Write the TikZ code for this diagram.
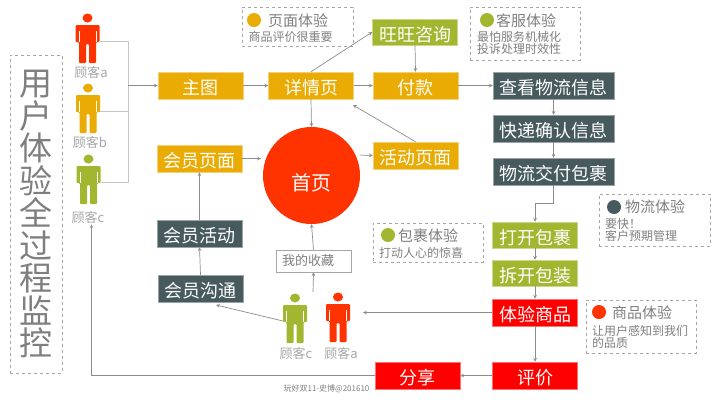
\documentclass[tikz,border=0pt]{standalone}
\usepackage{fontspec}
\setmainfont{Noto Sans CJK SC}
\definecolor{ytorange}{HTML}{EAAB05}
\definecolor{ytgreen}{HTML}{A2B72F}
\definecolor{ytslate}{HTML}{475A5D}
\definecolor{ytred}{HTML}{FF0000}
\definecolor{ytfire}{HTML}{FF3300}
\definecolor{ytgray}{HTML}{7F7F7F}
\definecolor{ytlabel}{HTML}{A6A6A6}
\definecolor{ytline}{HTML}{8C8C8C}
\newcommand{\fsize}[1]{\fontsize{#1}{#1}\selectfont}

\begin{document}
\begin{tikzpicture}[
    x=1pt, y=-1pt,
    flow/.style={fill=#1, draw=#1!55, line width=0.5pt, text=white, minimum width=85pt,
      minimum height=27pt, inner sep=0pt, text height=18pt, text depth=0pt, font=\fsize{18}},
    wideflow/.style={flow=#1, minimum width=121pt},
    link/.style={-stealth, draw=ytline, line width=0.7pt},
    feed/.style={draw=gray!45, line width=1pt},
    notebox/.style={draw=ytlabel, dashed, line width=0.6pt, inner sep=0pt},
    notedot/.style={circle, fill=#1, minimum size=14pt, inner sep=0pt},
    notehead/.style={anchor=west, inner sep=0pt, text=ytgray, font=\fsize{15}},
    notetext/.style={anchor=west, align=left, inner sep=0pt, text=ytgray, font=\fsize{12}},
    custlabel/.style={inner sep=0pt, text=ytlabel, font=\fsize{13}},
    pics/person/.style={code={
      \fill[#1] (0,0) ellipse (5 and 4.5);
      \fill[#1, rounded corners=1pt] (-12,7) -- (12,7) -- (12,24) -- (8.5,24) -- (8.5,45) -- (1.5,45)
        -- (1.5,26) -- (-1.5,26) -- (-1.5,45) -- (-8.5,45) -- (-8.5,24) -- (-12,24) -- cycle;
      \draw[white, line width=0.3pt] (-8.5,13) -- (-8.5,24) (8.5,13) -- (8.5,24);
      \coordinate (-r) at (12,23);
      \coordinate (-l) at (-12,23);
    }},
  ]
  \useasboundingbox (0,0) rectangle (720,405);

  % title
  \node[notebox, minimum width=52pt, minimum height=318pt] (titlebox) at (36,214) {};
  \node[align=center, inner sep=0pt, text=ytgray, font=\fontsize{33}{32.5}\selectfont] (title) at (36,214)
    {用\\户\\体\\验\\全\\过\\程\\监\\控};

  % customers
  \pic (custa) at (87.5,18) {person=ytfire};
  \pic (custb) at (88,88) {person=ytorange};
  \pic (custc) at (88.5,159) {person=ytgreen};
  \pic (custd) at (295,298) {person=ytgreen};
  \pic (custe) at (338,297) {person=ytfire};
  \node[custlabel] (labela) at (91,73) {顾客a};
  \node[custlabel] (labelb) at (90,143) {顾客b};
  \node[custlabel] (labelc) at (88,218) {顾客c};
  \node[custlabel] (labeld) at (296,354) {顾客c};
  \node[custlabel] (labele) at (341,354) {顾客a};

  % flow boxes
  \node[flow=ytorange] (main) at (200.5,85.5) {主图};
  \node[flow=ytorange] (detail) at (311,85.5) {详情页};
  \node[flow=ytorange] (pay) at (415.5,85.5) {付款};
  \node[flow=ytgreen, minimum height=26pt] (wangwang) at (415,32) {旺旺咨询};
  \node[flow=ytorange] (event) at (415.5,155.5) {活动页面};
  \node[flow=ytorange] (member) at (199.5,158.5) {会员页面};
  \node[flow=ytslate] (memberact) at (199.5,233.5) {会员活动};
  \node[flow=ytslate] (membertalk) at (200.5,288.5) {会员沟通};
  \node[wideflow=ytslate] (track) at (553.5,85.5) {查看物流信息};
  \node[wideflow=ytslate] (confirm) at (553.5,128.5) {快递确认信息};
  \node[wideflow=ytslate] (deliver) at (553.5,171.5) {物流交付包裹};
  \node[flow=ytgreen, minimum height=26pt] (openbox) at (535,235) {打开包裹};
  \node[flow=ytgreen, minimum height=26pt] (unpack) at (535,273) {拆开包装};
  \node[flow=ytred] (tryit) at (535,312.5) {体验商品};
  \node[flow=ytred] (review) at (535,375.5) {评价};
  \node[flow=ytred] (share) at (417.5,375.5) {分享};
  \node[circle, fill=ytfire, minimum size=97pt, inner sep=0pt, text=white, text height=30pt, text depth=0pt,
    font=\fsize{20}] (home) at (311.5,175.5) {首页};
  \node[draw=ytlabel, line width=0.6pt, minimum height=22pt, inner xsep=6pt, inner ysep=0pt, text width=63pt,
    align=left, text=ytgray, font=\fsize{13}] (favs) at (313.5,261) {我的收藏};

  % notes
  \node[notebox, minimum width=111pt, minimum height=39pt] (pagenote) at (297.5,26.5) {};
  \node[notedot=ytorange] (pagedot) at (254,20) {};
  \node[notehead] (pagehead) at (268,21) {页面体验};
  \node[notetext] (pagetext) at (248.5,36.5) {商品评价很重要};

  \node[notebox, minimum width=110pt, minimum height=53pt] (servnote) at (525,33.5) {};
  \node[notedot=ytgreen] (servdot) at (487,20) {};
  \node[notehead] (servhead) at (496,21) {客服体验};
  \node[notetext] (servtext) at (477,43) {最怕服务机械化\\投诉处理时效性};

  \node[notebox, minimum width=111pt, minimum height=52pt] (lognote) at (654.5,220) {};
  \node[notedot=ytslate] (logdot) at (614,207) {};
  \node[notehead] (loghead) at (625,207) {物流体验};
  \node[notetext] (logtext) at (605,230) {要快！\\客户预期管理};

  \node[notebox, minimum width=110pt, minimum height=53pt] (goodsnote) at (641,326.5) {};
  \node[notedot=ytfire] (goodsdot) at (599,312) {};
  \node[notehead] (goodshead) at (612,313) {商品体验};
  \node[notetext] (goodstext) at (592,337) {让用户感知到我们\\的品质};

  \node[notebox, minimum width=110pt, minimum height=39pt] (parcelnote) at (428,242.5) {};
  \node[notedot=ytgreen] (parceldot) at (388,235) {};
  \node[notehead] (parcelhead) at (398,236) {包裹体验};
  \node[notetext] (parceltext) at (379,253) {打动人心的惊喜};

  \node[inner sep=0pt, text=ytgray, font=\fsize{8}] (footer) at (326.5,389) {玩好双11-史博@201610};

  % connectors
  \coordinate (joint) at (128,85.5);
  \draw[feed] (custa-r) -| (joint);
  \draw[feed] (custb-r) -| (joint);
  \draw[feed] (custc-r) -| (joint);
  \draw[link] (joint) -- (main.west);
  \draw[link] (main.east) -- (detail.west);
  \draw[link] (detail.east) -- (pay.west);
  \draw[link] (pay.east) -- (track.west);
  \draw[link] (detail.north) -- (wangwang.west);
  \draw[link] (wangwang.south) -- (pay.north);
  \draw[link] (detail.south) -- (home.north);
  \coordinate (eventend) at (353,105);
  \draw[link] (event.north) -- (eventend);
  \draw[link, shorten <=4pt] (home.25) -- (event.west);
  \draw[link] (member.east) -- (261,158.5);
  \draw[link] (memberact.north) -- (member.south);
  \draw[link] (membertalk.north) -- (memberact.south);
  \draw[link] (track.south) -- (confirm.north);
  \draw[link] (confirm.south) -- (deliver.north);
  \coordinate (bendright) at (553.5,203);
  \coordinate (bendleft) at (535,203);
  \draw[link] (deliver.south) -- (bendright) -- (bendleft) -- (openbox.north);
  \draw[link] (openbox.south) -- (unpack.north);
  \draw[link] (unpack.south) -- (tryit.north);
  \draw[link] (tryit.south) -- (review.north);
  \draw[link] (review.west) -- (share.east);
  \coordinate (tryend) at (363,312.5);
  \draw[link] (tryit.west) -- (tryend);
  \coordinate (sharebend) at (91.5,375.5);
  \draw[link] (share.west) -- (sharebend) -- (labelc.south -| sharebend);
  \coordinate (talkend) at (216,305);
  \draw[link] (custd-l) -- (talkend);
  \coordinate (favstart) at (313,292);
  \draw[link] (favstart) -- (favs.south);
  \draw[link] (favs.north) -- (home.south);
\end{tikzpicture}
\end{document}
